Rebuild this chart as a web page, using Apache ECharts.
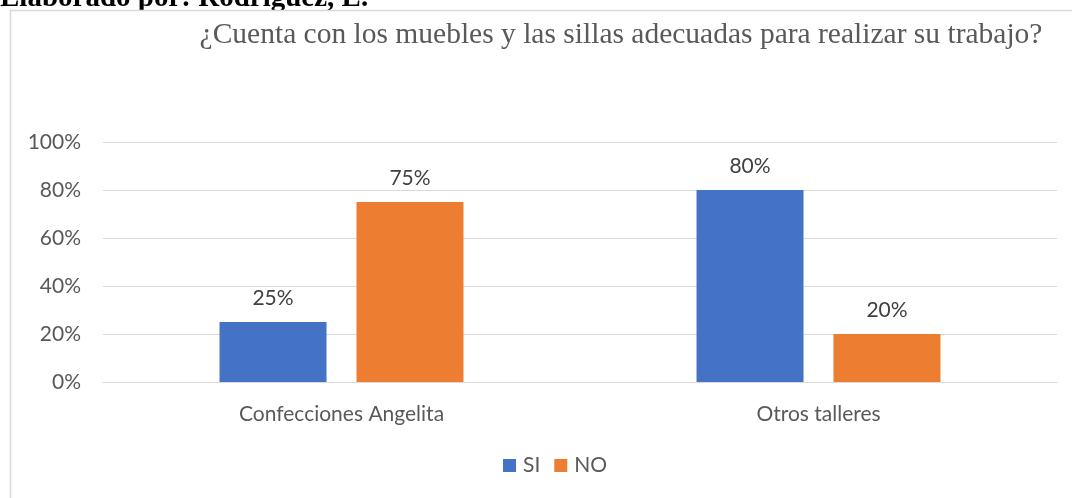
<!DOCTYPE html>
<html>
<head>
    <meta charset="utf-8">
    <title>ECharts</title>
    <script src="https://cdn.jsdelivr.net/npm/echarts@6/dist/echarts.min.js"></script>
</head>
<body>
<style>
    html, body, #main {
        width: 100%;
        height: 100%;
        padding: 0;
        margin: 0;
        background: #fff;
    }
</style>
<div id="main"></div>
<script type="text/javascript">
    var categories = ['Confecciones Angelita', 'Otros talleres'];
    var siValues = [25, 80];
    var noValues = [75, 20];
    var yTicks = [0, 20, 40, 60, 80, 100];

    var myChart = echarts.init(document.getElementById('main'));
    var labelFont = 'Lato, sans-serif';

    var barLabel = {
        show: true,
        position: 'top',
        distance: 13,
        color: '#404040',
        fontSize: 21,
        fontFamily: labelFont,
        formatter: '{c}%'
    };

    myChart.setOption({
        animation: false,
        title: {
            text: '¿Cuenta con los muebles y las sillas adecuadas para realizar su trabajo?',
            left: 616,
            textAlign: 'center',
            top: 15,
            textStyle: {
                fontFamily: '"Liberation Serif", serif',
                fontWeight: 'normal',
                fontSize: 29.5,
                color: '#595959'
            }
        },
        graphic: [
            {
                type: 'text',
                z: -20,
                style: {
                    x: 0,
                    y: 13,
                    verticalAlign: 'bottom',
                    text: 'Elaborado por: Rodríguez, E.',
                    font: 'bold 29px "Liberation Serif", serif',
                    fill: '#000'
                }
            },
            {
                type: 'rect',
                z: -10,
                shape: { x: 10.5, y: 10.5, width: 1070, height: 500 },
                style: { fill: '#fff', stroke: '#d9d9d9', lineWidth: 1.5 }
            }
        ],
        legend: {
            bottom: 17,
            left: 498,
            itemWidth: 13,
            itemHeight: 13,
            itemGap: 14,
            icon: 'rect',
            textStyle: { color: '#595959', fontSize: 21, fontFamily: labelFont, padding: [0, 0, 0, 2] },
            data: ['SI', 'NO']
        },
        grid: {
            left: 103,
            right: 15,
            top: 142,
            bottom: 116
        },
        xAxis: {
            type: 'category',
            data: categories,
            axisTick: { show: false },
            axisLine: { lineStyle: { color: '#d9d9d9' } },
            axisLabel: {
                color: '#595959',
                fontSize: 21,
                fontFamily: labelFont,
                margin: 22
            }
        },
        yAxis: {
            type: 'value',
            min: yTicks[0],
            max: yTicks[yTicks.length - 1],
            interval: 20,
            axisLine: { show: false },
            axisTick: { show: false },
            splitLine: { lineStyle: { color: '#d9d9d9', width: 1 } },
            axisLabel: {
                color: '#595959',
                fontSize: 21,
                fontFamily: labelFont,
                margin: 22,
                formatter: '{value}%'
            }
        },
        series: [
            {
                name: 'SI',
                type: 'bar',
                data: siValues,
                barWidth: 107,
                barGap: '28%',
                itemStyle: { color: '#4472C4' },
                label: barLabel
            },
            {
                name: 'NO',
                type: 'bar',
                data: noValues,
                barWidth: 107,
                itemStyle: { color: '#ED7D31' },
                label: barLabel
            }
        ]
    });

    window.onresize = function () {
        myChart.resize();
    };
</script>
</body>
</html>
